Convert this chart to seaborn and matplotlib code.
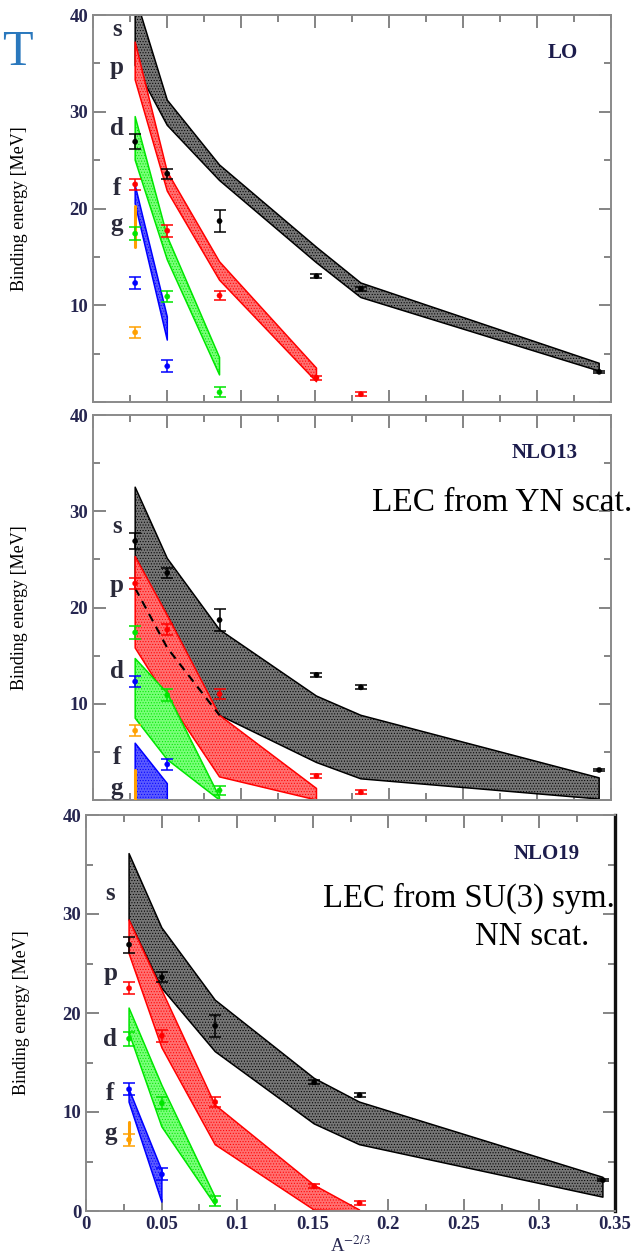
import matplotlib
matplotlib.use("Agg")
import matplotlib.pyplot as plt
from matplotlib.ticker import MultipleLocator
import seaborn as sns
import pandas as pd

# A^{-2/3} of the hypernuclei: 208Pb, 89Y, 40Ca, 16O, 13C, 5He
x_nuclei = [0.0285, 0.0502, 0.0855, 0.151, 0.181, 0.342]

# measured Lambda single-particle binding energies [MeV]
exp_s = [26.9, 23.6, 18.7, 13.0, 11.7, 3.12]
exp_s_err = [0.8, 0.5, 1.1, 0.2, 0.2, 0.1]
exp_p = [22.5, 17.7, 11.0, 2.5, 0.8]
exp_p_err = [0.6, 0.6, 0.5, 0.2, 0.2]
exp_d = [17.4, 10.9, 1.0]
exp_d_err = [0.7, 0.6, 0.5]
exp_f = [12.3, 3.7]
exp_f_err = [0.6, 0.6]
exp_g = [7.2]
exp_g_err = [0.6]

# theory bands (lower / upper edge) per order
lo_s_low = [34.8, 28.6, 22.9, 14.4, 10.8, 3.2]
lo_s_high = [42.0, 31.2, 24.5, 16.0, 12.3, 4.0]
lo_p_low = [33.3, 21.8, 12.6, 2.1]
lo_p_high = [37.2, 23.8, 14.5, 3.5]
lo_d_low = [25.0, 14.7, 2.8]
lo_d_high = [29.5, 17.1, 4.6]
lo_f_low = [20.5, 6.4]
lo_f_high = [22.4, 8.8]
lo_g_range = [16.0, 20.3]

nlo13_s_low = [22.0, 15.8, 8.8, 3.9, 2.2, 0.1]
nlo13_s_high = [32.5, 25.1, 17.7, 10.8, 8.8, 2.3]
nlo13_p_low = [15.8, 10.5, 2.4, 0.0]
nlo13_p_high = [25.3, 19.2, 8.8, 1.2]
nlo13_d_low = [8.5, 4.2, 0.0]
nlo13_d_high = [14.7, 11.1, 0.3]
nlo13_f_low = [0.0, 0.0]
nlo13_f_high = [5.9, 1.7]
nlo13_g_range = [0.0, 3.1]

nlo19_s_low = [29.4, 22.5, 16.1, 8.8, 6.7, 1.4]
nlo19_s_high = [36.1, 28.6, 21.3, 13.4, 11.0, 3.4]
nlo19_p_low = [26.0, 16.5, 6.7, 0.1, 0.0]
nlo19_p_high = [29.4, 22.3, 10.7, 2.6, 0.1]
nlo19_d_low = [18.0, 8.5, 0.6]
nlo19_d_high = [20.5, 12.7, 1.4]
nlo19_f_low = [11.0, 0.9]
nlo19_f_high = [12.3, 4.1]
nlo19_g_range = [6.9, 9.0]

waves = ["s", "p", "d", "f", "g"]
wave_colors = {"s": "black", "p": "#ff0000", "d": "#00e600", "f": "#0000ff", "g": "#ffa000"}
band_faces = {"s": "#767676", "p": "#ff7070", "d": "#78ff78", "f": "#5a5aff"}

panel_names = ["LO", "NLO13", "NLO19"]
label_y = [[38.5, 34.6, 28.3, 22.1, 18.3],
           [28.4, 22.3, 13.3, 4.4, 1.2],
           [32.1, 24.0, 17.3, 11.9, 7.8]]

sns.set_theme(style="ticks")
plt.rcParams["font.family"] = ["Liberation Serif", "DejaVu Serif"]
plt.rcParams["mathtext.fontset"] = "stix"
plt.rcParams["hatch.linewidth"] = 0.45

exp_rows = []
for w, vals, errs in zip(waves, [exp_s, exp_p, exp_d, exp_f, exp_g],
                         [exp_s_err, exp_p_err, exp_d_err, exp_f_err, exp_g_err]):
    for xv, v, e in zip(x_nuclei, vals, errs):
        exp_rows.append({"x": xv, "B": v, "err": e, "wave": w})
exp_df = pd.DataFrame(exp_rows)

bands = [
    {"s": (lo_s_low, lo_s_high), "p": (lo_p_low, lo_p_high),
     "d": (lo_d_low, lo_d_high), "f": (lo_f_low, lo_f_high), "g": lo_g_range},
    {"s": (nlo13_s_low, nlo13_s_high), "p": (nlo13_p_low, nlo13_p_high),
     "d": (nlo13_d_low, nlo13_d_high), "f": (nlo13_f_low, nlo13_f_high), "g": nlo13_g_range},
    {"s": (nlo19_s_low, nlo19_s_high), "p": (nlo19_p_low, nlo19_p_high),
     "d": (nlo19_d_low, nlo19_d_high), "f": (nlo19_f_low, nlo19_f_high), "g": nlo19_g_range},
]

fig = plt.figure(figsize=(6.33, 12.59), dpi=100)
W, H = 633, 1259
rects = [(93, 15, 611, 402), (93, 415, 611, 800), (86, 815, 615, 1211)]
axes = [fig.add_axes([l / W, 1 - b / H, (r - l) / W, (b - t) / H]) for (l, t, r, b) in rects]

tick_color = "#262650"
for i, ax in enumerate(axes):
    band = bands[i]
    for w in ["s", "p", "d", "f"]:
        low, high = band[w]
        xs = x_nuclei[:len(low)]
        ax.fill_between(xs, low, high, facecolor=band_faces[w], edgecolor=wave_colors[w],
                        hatch="......", linewidth=1.1, zorder=2)
    g0, g1 = band["g"]
    ax.plot([x_nuclei[0], x_nuclei[0]], [g0, g1], color=wave_colors["g"], lw=2.2, zorder=3)
    if i == 1:
        ax.plot(x_nuclei[:3], nlo13_s_low[:3], color="black", ls=(0, (4, 3)), lw=1.5, zorder=4)

    for w in waves:
        sub = exp_df[exp_df["wave"] == w]
        ax.errorbar(sub["x"], sub["B"], yerr=sub["err"], fmt="none", ecolor=wave_colors[w],
                    elinewidth=1.1, capsize=4.5, capthick=1.1, zorder=5)
    sns.scatterplot(data=exp_df, x="x", y="B", hue="wave", palette=wave_colors,
                    s=14, edgecolor=None, legend=False, ax=ax, zorder=6)

    ax.set_xlim(0, 0.35)
    ax.set_ylim(0, 40)
    ax.xaxis.set_major_locator(MultipleLocator(0.05))
    ax.xaxis.set_minor_locator(MultipleLocator(0.025))
    ax.set_yticks([0, 10, 20, 30, 40])
    ax.yaxis.set_minor_locator(MultipleLocator(5))
    ax.tick_params(which="both", direction="in", top=True, right=True, color="#707070",
                   labelcolor=tick_color, labelsize=13.5, width=1.2)
    ax.tick_params(which="major", length=9)
    ax.tick_params(which="minor", length=5)
    for sp in ax.spines.values():
        sp.set_color("#8a8a8a")
        sp.set_linewidth(1.4)
    if i < 2:
        ax.set_yticklabels(["", "10", "20", "30", "40"])
        ax.set_xticklabels([])
        ax.set_xlabel("")
    else:
        ax.set_xticks([0, 0.05, 0.1, 0.15, 0.2, 0.25, 0.3, 0.35])
        ax.set_xticklabels(["0", "0.05", "0.1", "0.15", "0.2", "0.25", "0.3", "0.35"])
        ax.set_xlabel("A$^{-2/3}$", fontsize=13.5, color=tick_color, labelpad=2)
        ax.spines["right"].set_color("#111111")
        ax.spines["right"].set_linewidth(2.4)
    for lab in ax.get_xticklabels() + ax.get_yticklabels():
        lab.set_fontweight("bold")
    ax.set_ylabel("Binding energy [MeV]", fontsize=13, color="black")
    ax.yaxis.set_label_coords(-0.125 if i < 2 else -0.106, 0.5)

    for w, yy in zip(waves, label_y[i]):
        ax.text(0.016, yy, w, fontsize=18, fontweight="bold", color="#2a2a3a",
                ha="center", va="center", zorder=7)
    ax.text(0.305 if i else 0.3176, 36.1, panel_names[i], fontsize=15, fontweight="bold",
            color="#1c1c4c", ha="center", va="center")

fig.text(2 / W, 1 - 53 / H, "T", fontsize=36, color="#2a78bd", ha="left", va="center")
fig.text(372 / W, 1 - 503 / H, "LEC from YN scat.", fontsize=24, color="black",
         ha="left", va="center")
fig.text(323 / W, 1 - 898 / H, "LEC from SU(3) sym.", fontsize=23.5, color="black",
         ha="left", va="center")
fig.text(475 / W, 1 - 937 / H, "NN scat.", fontsize=23.5, color="black", ha="left", va="center")

fig.savefig("out.png", dpi=100)
